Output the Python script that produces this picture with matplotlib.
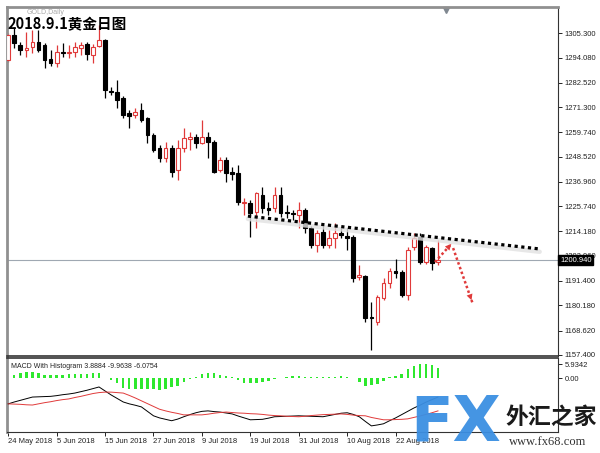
import numpy as np
import matplotlib.pyplot as plt
from matplotlib.transforms import blended_transform_factory

plt.rcParams['font.family'] = ['Liberation Sans', 'Noto Sans CJK SC', 'DejaVu Sans']

# velas diarias del oro (open, high, low, close)
opens = [1292.9, 1304.4, 1299.8, 1297.5, 1298.9, 1301.2, 1299.8, 1293.4, 1291.5, 1296.6,
         1296.1, 1296.6, 1298.4, 1300.2, 1295.2, 1299.3, 1302.1, 1278.7, 1278.2, 1275.4,
         1268.6, 1267.6, 1269.9, 1266.3, 1258.5, 1252.5, 1247.9, 1252.5, 1242.4, 1252.5,
         1256.6, 1257.5, 1254.8, 1257.5, 1255.2, 1242.4, 1247.0, 1241.5, 1241.0, 1227.2,
         1227.2, 1223.1, 1230.9, 1224.9, 1224.9, 1230.9, 1223.1, 1222.6, 1221.7, 1224.0,
         1215.7, 1207.9, 1213.9, 1207.9, 1211.1, 1213.4, 1212.1, 1211.6, 1193.2, 1193.7,
         1174.9, 1172.6, 1183.6, 1190.5, 1196.0, 1195.5, 1185.0, 1207.0, 1211.6, 1200.1,
         1206.6, 1200.1]
highs = [1305.3, 1308.1, 1301.2, 1305.8, 1306.7, 1306.7, 1300.7, 1297.5, 1299.8, 1300.7,
         1299.8, 1301.2, 1301.2, 1301.2, 1300.2, 1309.0, 1302.5, 1280.5, 1283.7, 1276.3,
         1269.9, 1270.9, 1273.1, 1266.7, 1259.4, 1253.9, 1255.2, 1253.9, 1256.2, 1261.7,
         1259.8, 1258.9, 1265.3, 1259.8, 1256.2, 1248.4, 1248.4, 1243.7, 1244.7, 1229.5,
         1228.6, 1232.3, 1234.6, 1227.7, 1234.6, 1234.6, 1226.3, 1224.0, 1227.7, 1224.9,
         1216.6, 1214.8, 1216.6, 1214.8, 1218.0, 1215.7, 1215.7, 1212.5, 1198.7, 1194.2,
         1181.7, 1185.0, 1192.8, 1197.4, 1201.5, 1196.4, 1207.0, 1213.4, 1213.4, 1208.0,
         1207.0, 1210.2]
lows = [1292.0, 1298.4, 1295.2, 1294.3, 1296.1, 1296.6, 1289.2, 1290.1, 1289.7, 1294.3,
        1293.8, 1294.3, 1295.2, 1292.9, 1291.5, 1298.9, 1275.4, 1276.8, 1270.9, 1266.3,
        1261.7, 1266.3, 1264.4, 1254.8, 1250.6, 1246.1, 1246.1, 1239.2, 1237.8, 1250.6,
        1251.6, 1252.5, 1254.3, 1247.9, 1241.0, 1241.5, 1236.9, 1237.8, 1226.3, 1221.7,
        1211.6, 1215.7, 1222.6, 1221.7, 1223.1, 1220.8, 1220.3, 1219.4, 1215.7, 1213.4,
        1206.6, 1204.7, 1206.6, 1206.6, 1206.6, 1211.1, 1205.7, 1190.9, 1191.9, 1172.6,
        1159.7, 1171.2, 1182.7, 1188.2, 1192.8, 1184.0, 1182.7, 1205.7, 1199.2, 1199.2,
        1196.4, 1198.7]
closes = [1304.4, 1300.7, 1297.5, 1298.4, 1301.2, 1297.5, 1292.9, 1291.5, 1296.6, 1296.1,
          1296.6, 1298.9, 1299.8, 1295.7, 1298.9, 1302.1, 1279.1, 1278.2, 1274.5, 1267.6,
          1267.2, 1269.0, 1265.3, 1258.5, 1251.6, 1247.9, 1252.5, 1241.5, 1252.5, 1257.1,
          1257.5, 1254.8, 1257.5, 1255.2, 1241.5, 1247.0, 1241.0, 1240.6, 1227.7, 1227.7,
          1222.6, 1231.8, 1224.9, 1224.0, 1230.9, 1222.6, 1222.6, 1222.2, 1224.0, 1215.7,
          1207.9, 1213.4, 1207.9, 1211.1, 1213.4, 1212.5, 1211.1, 1192.8, 1194.2, 1174.4,
          1174.4, 1184.0, 1190.5, 1196.0, 1195.1, 1185.0, 1205.7, 1211.1, 1200.1, 1207.0,
          1199.7, 1200.94]

# MACD
hist = [0.0, 1.4, 2.0, 2.4, 2.4, 2.0, 1.4, 1.3, 1.4, 1.4,
        1.7, 1.7, 1.7, 1.7, 2.0, 2.1, 0.2, -1.0, -2.3, -4.3,
        -4.5, -4.5, -4.7, -4.7, -4.8, -5.0, -4.8, -4.0, -3.3, -1.8,
        -0.3, 0.3, 1.7, 2.3, 2.0, 1.5, 0.8, 0.3, -1.0, -2.3,
        -2.3, -2.0, -1.8, -1.2, -0.2, 0.2, 0.3, 1.0, 1.0, 0.5,
        0.4, 0.3, 0.4, 0.4, 0.5, 0.8, 0.6, 0.2, -1.5, -3.3,
        -3.0, -2.5, -1.2, 0.3, 0.8, 1.8, 4.0, 5.0, 5.9, 5.9,
        5.5, 4.5]
macd = [-11.0, -10.2, -9.5, -8.8, -8.1, -8.0, -7.9, -7.8, -7.5, -7.1,
        -6.8, -6.4, -5.8, -5.2, -4.5, -3.8, -5.5, -7.2, -8.7, -10.2,
        -11.0, -11.6, -12.3, -14.2, -16.1, -17.0, -17.6, -18.2, -17.5, -16.5,
        -15.6, -14.8, -14.2, -14.0, -14.3, -14.5, -14.9, -15.3, -16.2, -17.0,
        -17.8, -17.7, -17.6, -17.1, -16.5, -16.4, -16.3, -16.2, -16.1, -16.2,
        -16.3, -16.4, -16.5, -16.0, -15.5, -15.0, -14.8, -15.5, -16.5, -18.5,
        -20.4, -20.0, -19.5, -18.2, -17.0, -15.6, -14.2, -12.8, -11.6, -10.3,
        -9.2, -8.1]
signal = [-11.0, -11.1, -11.2, -11.4, -11.5, -11.0, -10.5, -10.1, -9.6, -9.2,
          -8.9, -8.3, -7.8, -7.2, -6.6, -6.2, -6.0, -6.0, -6.2, -6.4,
          -7.4, -8.5, -9.7, -10.9, -12.1, -13.3, -14.0, -14.6, -15.1, -15.7,
          -15.7, -15.7, -15.7, -15.4, -15.0, -14.7, -14.5, -14.7, -14.9, -15.0,
          -15.2, -15.3, -15.5, -15.8, -16.0, -16.1, -16.3, -16.4, -16.5, -16.3,
          -16.0, -15.8, -15.6, -15.5, -15.4, -15.3, -15.5, -15.8, -16.0, -16.1,
          -16.8, -17.3, -17.8, -17.8, -17.7, -17.6, -17.4, -16.8, -16.2, -15.5,
          -14.8, -14.0]

date_pos = [0, 8, 16, 24, 32, 40, 48, 56, 64]
date_labels = ['24 May 2018', '5 Jun 2018', '15 Jun 2018', '27 Jun 2018', '9 Jul 2018',
               '19 Jul 2018', '31 Jul 2018', '10 Aug 2018', '22 Aug 2018']
price_ticks = [1157.4, 1168.62, 1180.18, 1191.4, 1202.96, 1214.18, 1225.74, 1236.96,
               1248.52, 1259.74, 1271.3, 1282.52, 1294.08, 1305.3]
last_price = 1200.94

# lineas dibujadas a mano
trend_x = [39.6, 87.8]
trend_y = [1221.2, 1206.1]
arrow_up = [(70.5, 1200.1), (73.2, 1208.4)]
arrow_down = [(73.5, 1206.5), (76.7, 1181.3)]

red = '#e03a3a'
fig = plt.figure(figsize=(6, 4.53), dpi=100)
ax = fig.add_axes([0.0117, 0.2141, 0.918, 0.770])
ax2 = fig.add_axes([0.0117, 0.0464, 0.918, 0.163])

x = np.arange(len(opens))
o = np.array(opens)
c = np.array(closes)
up = c >= o
body_bot = np.minimum(o, c)
body_h = np.maximum(np.abs(c - o), 0.35)

# mechas
ax.vlines(x[up], np.array(lows)[up], np.array(highs)[up], color=red, lw=0.9, zorder=2)
ax.vlines(x[~up], np.array(lows)[~up], np.array(highs)[~up], color='black', lw=0.9, zorder=2)
# cuerpos
ax.bar(x[up], body_h[up], 0.62, bottom=body_bot[up], color='white', edgecolor=red, linewidth=0.8, zorder=3)
ax.bar(x[~up], body_h[~up], 0.62, bottom=body_bot[~up], color='black', edgecolor='black', linewidth=0.8, zorder=3)

ax.axhline(last_price, color='#9fa8b2', lw=0.8, zorder=1)

# linea de tendencia punteada con sombra
ax.plot(trend_x, [v - 1.3 for v in trend_y], color='#e2e2e2', lw=3.2, alpha=0.8, zorder=4, solid_capstyle='round')
ax.plot(trend_x, trend_y, color='black', lw=2.3, linestyle=(0, (1, 1.1)), dash_capstyle='butt', zorder=5)

# flechas rojas
for seg in [arrow_up, arrow_down]:
    (x0, y0), (x1, y1) = seg
    ax.plot([x0, x1], [y0, y1], color=red, lw=1.8, linestyle=(0, (1, 1)), zorder=5)
    ax.annotate('', xy=(x1, y1), xytext=(x0 + (x1 - x0) * 0.8, y0 + (y1 - y0) * 0.8),
                arrowprops=dict(arrowstyle='-|>', color=red, lw=0, mutation_scale=11), zorder=6)

ax.set_xlim(-0.2, 90.8)
ax.set_ylim(1156.9, 1317.2)
ax.set_xticks([])
ax.yaxis.tick_right()
ax.set_yticks(price_ticks)
ax.set_yticklabels(['%.3f' % v for v in price_ticks], fontsize=5.5, color='#222222')
ax.tick_params(axis='y', length=3, width=0.6, pad=2)

# etiqueta del precio actual
tr = blended_transform_factory(ax.transAxes, ax.transData)
ax.text(1.004, last_price, '%.3f' % last_price, transform=tr, fontsize=5.5, color='white',
        va='center', ha='left', bbox=dict(boxstyle='square,pad=0.2', fc='black', ec='black'), zorder=10)

ax.text(0.0, 0.975, '2018.9.1黄金日图', transform=ax.transAxes, fontsize=10.5, fontweight='bold',
        family=['Noto Sans CJK SC', 'DejaVu Sans'], va='top', ha='left', zorder=10)
ax.text(0.035, 0.995, 'GOLD,Daily', transform=ax.transAxes, fontsize=5, color='#aaaaaa', va='top', zorder=9)
ax.plot([72.4], [1316.0], marker='v', color='#808890', markersize=4, clip_on=False)

for s in ['left', 'top']:
    ax.spines[s].set_color('#909090')
    ax.spines[s].set_linewidth(2)
ax.spines['right'].set_color('#333333')
ax.spines['bottom'].set_color('#333333')
ax.spines['right'].set_linewidth(0.8)
ax.spines['bottom'].set_linewidth(1.2)

# panel MACD
ax2.bar(x, hist, 0.4, color='#2ee82e', zorder=2)
ax2.plot(x, macd, color='black', lw=0.7, zorder=3)
ax2.plot(x, signal, color=red, lw=0.7, zorder=3)
ax2.set_xlim(-0.2, 90.8)
ax2.set_ylim(-23, 8.5)
ax2.yaxis.tick_right()
ax2.set_yticks([5.9342, 0.0])
ax2.set_yticklabels(['5.9342', '0.00'], fontsize=5.5, color='#222222')
ax2.tick_params(axis='y', length=3, width=0.6, pad=2)
ax2.set_xticks(date_pos)
ax2.set_xticklabels(date_labels, fontsize=5.5, ha='left', color='#222222')
ax2.tick_params(axis='x', length=3, width=0.6, pad=1.5)
ax2.text(0.008, 0.93, 'MACD With Histogram 3.8884 -9.9638 -6.0754', transform=ax2.transAxes,
         fontsize=5, va='top', ha='left', color='#222222')
ax2.spines['left'].set_color('#909090')
ax2.spines['left'].set_linewidth(2)
ax2.spines['top'].set_color('#333333')
ax2.spines['top'].set_linewidth(1.2)
ax2.spines['right'].set_color('#333333')
ax2.spines['right'].set_linewidth(0.8)
ax2.spines['bottom'].set_color('#333333')
ax2.spines['bottom'].set_linewidth(0.8)

# marca de agua
fig.text(0.683, 0.028, 'FX', fontsize=45, fontweight='bold', color='#3b8fe2', family='DejaVu Sans',
         alpha=0.95, zorder=20)
fig.text(0.842, 0.065, '外汇之家', fontsize=16.5, fontweight='bold', color='#1a1a1a',
         family=['Noto Sans CJK SC', 'DejaVu Sans'], zorder=20)
fig.text(0.848, 0.018, 'www.fx68.com', fontsize=9, color='#333333', family='Liberation Serif', zorder=20)

fig.savefig('out.png', dpi=100)
